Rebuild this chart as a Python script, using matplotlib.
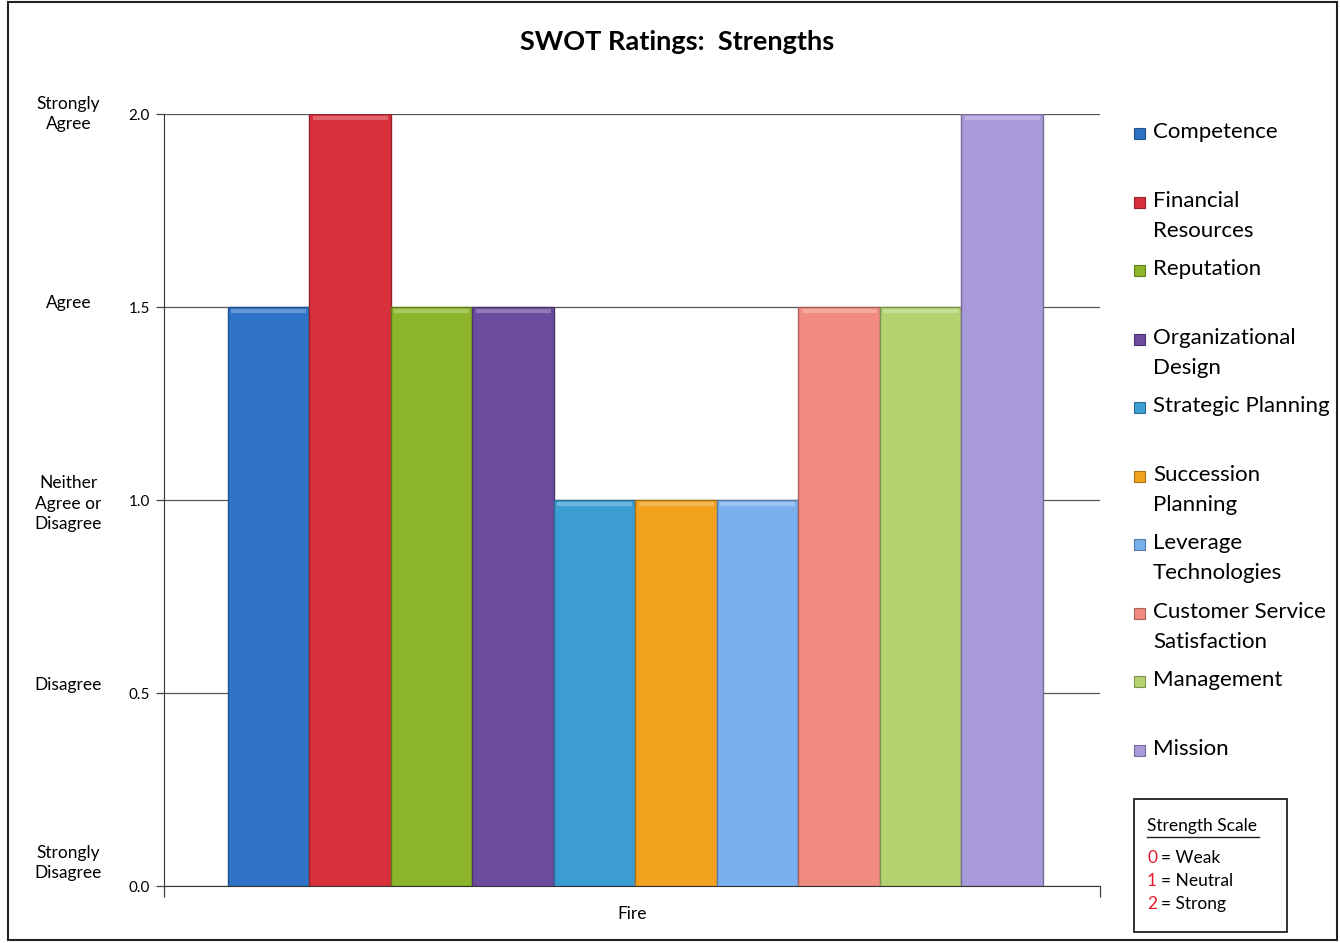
import matplotlib
matplotlib.use("Agg")
import matplotlib.pyplot as plt
from matplotlib.patches import Rectangle
import numpy as np

plt.rcParams['font.family'] = ['Lato', 'DejaVu Sans']

# strength ratings for the Fire department
categories = ['Competence', 'Financial\nResources', 'Reputation', 'Organizational\nDesign',
              'Strategic Planning', 'Succession\nPlanning', 'Leverage\nTechnologies',
              'Customer Service\nSatisfaction', 'Management', 'Mission']
ratings = [1.5, 2.0, 1.5, 1.5, 1.0, 1.0, 1.0, 1.5, 1.5, 2.0]
bar_colors = ['#2f73c6', '#d8313b', '#8cb52b', '#6a4b9e', '#3c9dd2', '#f2a21f',
              '#7bb0ee', '#f18b80', '#b3d270', '#a99ad9']

y_ticks = [0.0, 0.5, 1.0, 1.5, 2.0]
scale_words = ['Strongly\nDisagree', 'Disagree', 'Neither\nAgree or\nDisagree', 'Agree', 'Strongly\nAgree']
scale_word_y = [0.06, 0.52, 0.99, 1.51, 2.0]

key_numbers = ['0', '1', '2']
key_words = ['Weak', 'Neutral', 'Strong']


def darker(hex_color, f=0.7):
    c = np.array(matplotlib.colors.to_rgb(hex_color))
    return tuple(c * f)


def lighter(hex_color, f=0.3):
    c = np.array(matplotlib.colors.to_rgb(hex_color))
    return tuple(c * (1 - f) + f)


fig = plt.figure(figsize=(13.4, 9.43), dpi=100)
ax = fig.add_axes([0.1224, 0.0604, 0.6985, 0.8187])

x = np.arange(len(ratings))
ax.bar(x, ratings, width=1.0, color=bar_colors,
       edgecolor=[darker(c) for c in bar_colors], linewidth=1.0, zorder=3)

# soft bevel along the top of each bar
for xi, v, c in zip(x, ratings, bar_colors):
    ax.plot([xi - 0.46, xi + 0.46], [v - 0.01, v - 0.01], color=lighter(c, 0.25),
            lw=3, solid_capstyle='butt', zorder=4)

ax.set_xlim(-1.285, 10.2)
ax.set_ylim(0, 2.0)
ax.set_yticks(y_ticks)
ax.set_yticklabels(['%.1f' % t for t in y_ticks], fontsize=11)
ax.yaxis.grid(True, color='#555555', linewidth=0.9, zorder=0)
ax.tick_params(axis='y', length=6, width=0.9, pad=4, color='#444444')
ax.set_xticks([-1.285, 10.2])
ax.set_xticklabels(['', ''])
ax.tick_params(axis='x', length=8, width=0.9, color='#444444')
ax.set_xlabel('Fire', fontsize=12.5, labelpad=3)
for s in ['top', 'right']:
    ax.spines[s].set_visible(False)
ax.spines['left'].set_color('#333333')
ax.spines['bottom'].set_color('#333333')
ax.set_axisbelow(True)

# agreement words next to the numeric scale
for word, yv in zip(scale_words, scale_word_y):
    ax.text(-0.102, yv, word, transform=ax.get_yaxis_transform(), ha='center',
            va='center', fontsize=12.5, linespacing=1.35)

fig.text(0.505, 0.955, 'SWOT Ratings:  Strengths', ha='center', va='center',
         fontsize=19.5, fontweight='bold')

# legend, one slot per category
slot_top = 1 - 132 / 943
slot_step = 68.5 / 943
for i, (name, c) in enumerate(zip(categories, bar_colors)):
    yy = slot_top - i * slot_step
    fig.add_artist(Rectangle((0.8465, yy - 0.0075), 0.0082, 0.0117, transform=fig.transFigure,
                             facecolor=c, edgecolor=darker(c), linewidth=0.8))
    fig.text(0.8605, yy + 0.0105, name, ha='left', va='top', fontsize=16, linespacing=1.62)

# strength scale key box
fig.add_artist(Rectangle((0.8463, 0.0117), 0.1142, 0.1411, transform=fig.transFigure,
                         facecolor='white', edgecolor='#222222', linewidth=1.3))
fig.text(0.856, 0.1245, 'Strength Scale', fontsize=12.5, va='center', ha='left')
fig.add_artist(plt.Line2D([0.856, 0.9395], [0.1125, 0.1125], transform=fig.transFigure,
                          color='#222222', lw=1))
for i, (n, w) in enumerate(zip(key_numbers, key_words)):
    yy = 0.0905 - i * 0.0245
    fig.text(0.856, yy, n, color='#e8192c', fontsize=12.5, va='center', ha='left')
    fig.text(0.8665, yy, '= ' + w, color='black', fontsize=12.5, va='center', ha='left')

# outer frame
fig.add_artist(Rectangle((0.006, 0.003), 0.992, 0.995, transform=fig.transFigure,
                         facecolor='none', edgecolor='#222222', linewidth=1.5))

fig.savefig('out.png', dpi=100)
